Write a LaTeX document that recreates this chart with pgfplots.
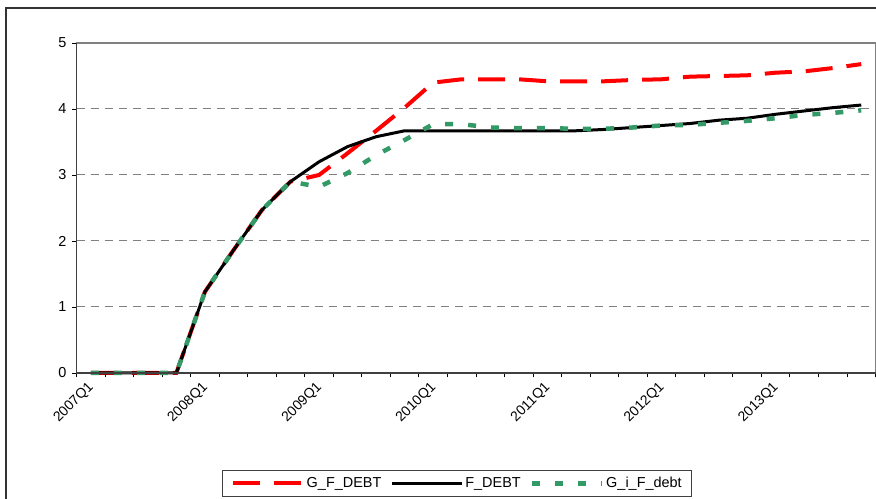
\documentclass[border=0pt]{standalone}
\usepackage{pgfplots}
\pgfplotsset{compat=1.18}
\usepackage{fontspec}
\setmainfont{Liberation Sans}
\definecolor{gr}{RGB}{51,153,102}
\definecolor{gridc}{RGB}{128,128,128}
\begin{document}
\begin{tikzpicture}[x=1bp,y=1bp]
\path[use as bounding box] (0,0) rectangle (876,499);
\draw[line width=1.2bp, black!80] (6,0) -- (6,491) -- (876,491);
\begin{axis}[
  at={(76.5bp,126bp)}, anchor=south west,
  scale only axis, width=799bp, height=330bp,
  xmin=0, xmax=28, ymin=0, ymax=5,
  xtick={0,...,28}, xticklabels={},
  ytick={0,1,2,3,4,5},
  xtick pos=lower, ytick pos=left,
  tick align=outside, major tick length=4.5bp,
  tick style={black, line width=0.9bp},
  axis line style={gridc, line width=1.2bp},
  ymajorgrids, grid style={gridc, line width=1bp, dash pattern=on 8bp off 6bp},
  /pgf/number format/assume math mode=true,
  yticklabel style={font=\fontsize{14.5}{16}\selectfont, xshift=-2bp},
  extra x ticks={0.5,4.5,8.5,12.5,16.5,20.5,24.5},
  extra x tick labels={2007Q1,2008Q1,2009Q1,2010Q1,2011Q1,2012Q1,2013Q1},
  extra x tick style={major tick length=0pt, grid=none,
     tick label style={rotate=45, anchor=east, xshift=-7bp, yshift=-9bp,
     inner sep=1bp, font=\fontsize{14}{15}\selectfont}},
  legend columns=3,
  legend style={at={(0.4765,-0.3345)}, anchor=center, draw=black!75, line width=1bp,
     font=\fontsize{14.5}{16}\selectfont, inner xsep=8bp, inner ysep=5bp,
     /tikz/every even column/.append style={column sep=7bp}},
  legend image code/.code={\draw (0bp,0bp) -- (70bp,0bp);},
  clip=false,
]
\addplot[red, line width=4bp, dash pattern=on 27bp off 14bp] coordinates {
(0.5,0)(1.5,0)(2.5,0)(3.5,0)(4.5,1.23)(5.5,1.86)(6.5,2.47)(7.5,2.9)(8.5,3.0)(9.5,3.33)
(10.5,3.67)(11.5,4.02)(12.5,4.4)(13.5,4.45)(14.5,4.45)(15.5,4.45)(16.5,4.42)(17.5,4.42)
(18.5,4.42)(19.5,4.44)(20.5,4.45)(21.5,4.49)(22.5,4.5)(23.5,4.51)(24.5,4.55)(25.5,4.57)
(26.5,4.62)(27.5,4.68)};
\addlegendentry{G\_F\_DEBT}
\addplot[black, line width=3bp, line join=round] coordinates {
(0.5,0)(1.5,0)(2.5,0)(3.5,0)(4.5,1.23)(5.5,1.86)(6.5,2.47)(7.5,2.9)(8.5,3.2)(9.5,3.43)
(10.5,3.58)(11.5,3.67)(12.5,3.67)(13.5,3.67)(14.5,3.67)(15.5,3.67)(16.5,3.67)(17.5,3.67)
(18.5,3.69)(19.5,3.72)(20.5,3.75)(21.5,3.78)(22.5,3.83)(23.5,3.86)(24.5,3.92)(25.5,3.97)
(26.5,4.02)(27.5,4.06)};
\addlegendentry{F\_DEBT}
\addplot[gr, line width=4.5bp, dash pattern=on 8bp off 15bp] coordinates {
(0.5,0)(1.5,0)(2.5,0)(3.5,0)(4.5,1.23)(5.5,1.86)(6.5,2.47)(7.5,2.9)(8.5,2.82)(9.5,3.03)
(10.5,3.3)(11.5,3.53)(12.5,3.77)(13.5,3.77)(14.5,3.72)(15.5,3.71)(16.5,3.71)(17.5,3.7)
(18.5,3.7)(19.5,3.72)(20.5,3.75)(21.5,3.76)(22.5,3.79)(23.5,3.82)(24.5,3.86)(25.5,3.91)
(26.5,3.94)(27.5,3.98)};
\addlegendentry{G\_i\_F\_debt}
\draw[black!75, line width=1.5bp] (rel axis cs:0,1) -- (rel axis cs:0,0) -- (rel axis cs:1,0);
\end{axis}
\end{tikzpicture}
\end{document}
